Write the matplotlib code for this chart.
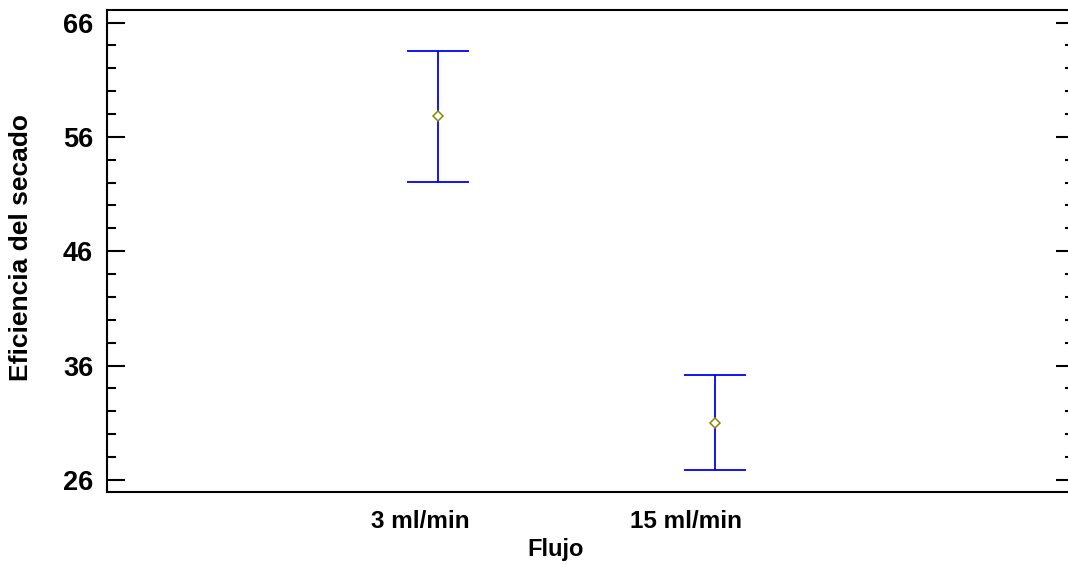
import matplotlib.pyplot as plt
from matplotlib.ticker import MultipleLocator

# Data (means with interval limits)
categories = ["3 ml/min", "15 ml/min"]
means = [57.8, 30.98]
lower = [52.05, 26.83]
upper = [63.55, 35.14]
ytick_values = [26, 36, 46, 56, 66]

plt.rcParams['font.family'] = ['Liberation Sans', 'DejaVu Sans']
plt.rcParams['font.weight'] = 'bold'

fig = plt.figure(figsize=(10.68, 5.65), dpi=100)
# axes box: left spine at x=107, right edge just past the image, top y=10, bottom y=491
ax = fig.add_axes([107 / 1068, 1 - 491.5 / 565, 967 / 1068, 481.5 / 565])

xpos = list(range(len(categories)))
yerr = [[m - lo for m, lo in zip(means, lower)],
        [hi - m for m, hi in zip(means, upper)]]
ax.errorbar(xpos, means, yerr=yerr, fmt='none', ecolor='#0000ff',
            elinewidth=1.3, capsize=31 * 0.72, capthick=1.3)
ax.plot(xpos, means, linestyle='none', marker='D', markersize=5,
        markerfacecolor='white', markeredgecolor='#8a8a00', markeredgewidth=1.1)

ax.set_xlim(-1.195, 2.296)
ax.set_ylim(24.98, 67.1)

# labels sit a bit left of their intervals in the original
ax.set_xticks([x - 0.065 - 0.04 * x for x in xpos])
ax.set_xticklabels(categories, fontsize=17.5, fontweight='bold')
ax.tick_params(axis='x', length=0, pad=13)

ax.set_yticks(ytick_values)
ax.yaxis.set_minor_locator(MultipleLocator(2))
ax.tick_params(axis='y', which='both', direction='in', left=True, right=True,
               labelsize=19.5, pad=10, width=1.5)
ax.tick_params(axis='y', which='major', length=13)
ax.tick_params(axis='y', which='minor', length=6.5)
for lbl in ax.get_yticklabels():
    lbl.set_fontweight('bold')

ax.spines['right'].set_visible(False)
for s in ['left', 'bottom', 'top']:
    ax.spines[s].set_linewidth(1.5)

ax.set_ylabel("Eficiencia del secado", fontsize=19, fontweight='bold')
ax.yaxis.set_label_coords(-0.0765, 0.506)
ax.set_xlabel("Flujo", fontsize=17, fontweight='bold')
ax.xaxis.set_label_coords(0.464, -0.096)

fig.savefig("out.png", dpi=100)
